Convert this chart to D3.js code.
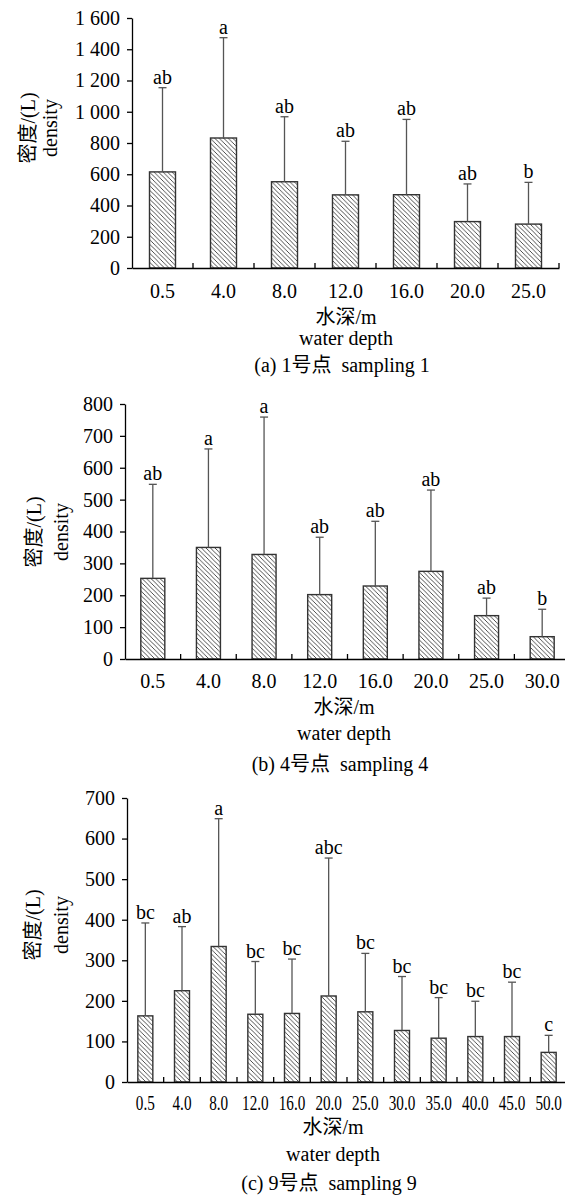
<!DOCTYPE html>
<html>
<head>
<meta charset="utf-8">
<script src="https://cdn.jsdelivr.net/npm/d3@7"></script>
<style>
  body { margin: 0; background: #fff; }
  svg { display: block; }
  text { font-family: "Liberation Serif", "Noto Sans CJK SC", serif; fill: #000; }
</style>
</head>
<body>
<div id="chart"></div>
<script>
// panel (a) sampling 1
var depthsA = ["0.5", "4.0", "8.0", "12.0", "16.0", "20.0", "25.0"];
var meanA = [615, 832, 552, 468, 469, 297, 281];
var upperA = [1154, 1474, 968, 811, 951, 538, 548];
var lettersA = ["ab", "a", "ab", "ab", "ab", "ab", "b"];
var ticksA = [0, 200, 400, 600, 800, 1000, 1200, 1400, 1600];

// panel (b) sampling 4
var depthsB = ["0.5", "4.0", "8.0", "12.0", "16.0", "20.0", "25.0", "30.0"];
var meanB = [253, 350, 328, 202, 229, 275, 136, 70];
var upperB = [548, 659, 759, 382, 432, 530, 191, 156];
var lettersB = ["ab", "a", "a", "ab", "ab", "ab", "ab", "b"];
var ticksB = [0, 100, 200, 300, 400, 500, 600, 700, 800];

// panel (c) sampling 9
var depthsC = ["0.5", "4.0", "8.0", "12.0", "16.0", "20.0", "25.0", "30.0", "35.0", "40.0", "45.0", "50.0"];
var meanC = [163, 225, 334, 167, 169, 212, 173, 127, 108, 112, 112, 73];
var upperC = [392, 383, 649, 297, 303, 552, 317, 260, 208, 199, 246, 115];
var lettersC = ["bc", "ab", "a", "bc", "bc", "abc", "bc", "bc", "bc", "bc", "bc", "c"];
var ticksC = [0, 100, 200, 300, 400, 500, 600, 700];

var captions = ["(a) 1号点  sampling 1", "(b) 4号点  sampling 4", "(c) 9号点  sampling 9"];

var W = 565, H = 1201;
var fmt = d3.formatLocale({decimal: ".", thousands: " ", grouping: [3], currency: ["", ""]}).format(",");

var svg = d3.select("#chart").append("svg")
    .attr("width", W)
    .attr("height", H);

var defs = svg.append("defs");
var pat = defs.append("pattern")
    .attr("id", "hatch")
    .attr("patternUnits", "userSpaceOnUse")
    .attr("width", 4.5)
    .attr("height", 4.5);
pat.append("rect").attr("width", 4.5).attr("height", 4.5).attr("fill", "#fff");
pat.append("path")
    .attr("d", "M0,0L4.5,4.5M-1,3.5L1,5.5M3.5,-1L5.5,1")
    .attr("stroke", "#222")
    .attr("stroke-width", 0.8);

var panels = [
    {depths: depthsA, mean: meanA, upper: upperA, letters: lettersA, ticks: ticksA, max: 1600,
     x0: 132, x1: 559, y0: 268, y1: 18, bw: 26, ylab: [28, 51, 128], xlabY: 298, titleX: 346, titleY: [324, 345, 372], tickScale: 1},
    {depths: depthsB, mean: meanB, upper: upperB, letters: lettersB, ticks: ticksB, max: 800,
     x0: 125, x1: 570, y0: 659, y1: 404, bw: 24, ylab: [34, 62, 532], xlabY: 688, titleX: 344, titleY: [714, 740, 771], tickScale: 1},
    {depths: depthsC, mean: meanC, upper: upperC, letters: lettersC, ticks: ticksC, max: 700,
     x0: 127, x1: 567, y0: 1082, y1: 798, bw: 15, ylab: [33, 62, 925], xlabY: 1110, titleX: 333, titleY: [1134, 1161, 1190], tickScale: 0.76}
];

panels.forEach(function(p, k) {
    var g = svg.append("g");

    var x = d3.scaleBand().domain(p.depths).range([p.x0, p.x1]).padding(0);
    var y = d3.scaleLinear().domain([0, p.max]).range([p.y0, p.y1]);

    // bars
    g.selectAll("rect.bar")
        .data(p.depths)
        .enter().append("rect")
        .attr("class", "bar")
        .attr("x", function(d) { return x(d) + (x.bandwidth() - p.bw) / 2; })
        .attr("y", function(d, i) { return y(p.mean[i]); })
        .attr("width", p.bw)
        .attr("height", function(d, i) { return p.y0 - y(p.mean[i]); })
        .attr("fill", "url(#hatch)")
        .attr("stroke", "#333")
        .attr("stroke-width", 1.4);

    // error bars
    var eb = g.selectAll("g.err")
        .data(p.depths)
        .enter().append("g")
        .attr("class", "err");
    eb.append("line")
        .attr("x1", function(d) { return x(d) + x.bandwidth() / 2; })
        .attr("x2", function(d) { return x(d) + x.bandwidth() / 2; })
        .attr("y1", function(d, i) { return y(p.mean[i]); })
        .attr("y2", function(d, i) { return y(p.upper[i]); })
        .attr("stroke", "#555")
        .attr("stroke-width", 1.3);
    eb.append("line")
        .attr("x1", function(d) { return x(d) + x.bandwidth() / 2 - 4; })
        .attr("x2", function(d) { return x(d) + x.bandwidth() / 2 + 4; })
        .attr("y1", function(d, i) { return y(p.upper[i]); })
        .attr("y2", function(d, i) { return y(p.upper[i]); })
        .attr("stroke", "#555")
        .attr("stroke-width", 1.3);
    eb.append("text")
        .attr("x", function(d) { return x(d) + x.bandwidth() / 2; })
        .attr("y", function(d, i) { return y(p.upper[i]) - 4; })
        .attr("text-anchor", "middle")
        .style("font-size", "20px")
        .text(function(d, i) { return p.letters[i]; });

    // y axis
    var ya = g.append("g")
        .attr("transform", "translate(" + p.x0 + ",0)")
        .call(d3.axisLeft(y).tickValues(p.ticks).tickFormat(fmt).tickSize(5).tickSizeOuter(0).tickPadding(7));
    ya.select(".domain").attr("stroke", "#000").attr("stroke-width", 1.3);
    ya.selectAll(".tick line").attr("stroke", "#000").attr("stroke-width", 1.3);
    ya.selectAll(".tick text").style("font-size", "20px").style("font-family", null).attr("font-family", null);

    // x axis
    var xa = g.append("g")
        .attr("transform", "translate(0," + p.y0 + ")")
        .call(d3.axisBottom(x).tickSize(0).tickSizeOuter(0).tickPadding(0));
    xa.select(".domain").attr("stroke", "#000").attr("stroke-width", 1.3);
    xa.selectAll(".tick text")
        .attr("y", p.xlabY - p.y0)
        .attr("dy", 0)
        .attr("transform", "scale(" + p.tickScale + ",1)")
        .style("font-size", "20px");
    ya.attr("font-family", null);
    xa.attr("font-family", null);

    // small ticks between categories, pointing up
    g.selectAll("line.minor")
        .data(p.depths)
        .enter().append("line")
        .attr("class", "minor")
        .attr("x1", function(d) { return x(d) + x.bandwidth(); })
        .attr("x2", function(d) { return x(d) + x.bandwidth(); })
        .attr("y1", p.y0)
        .attr("y2", p.y0 - 5)
        .attr("stroke", "#000")
        .attr("stroke-width", 1.3);

    // y title
    g.append("text")
        .attr("transform", "translate(" + p.ylab[0] + "," + p.ylab[2] + ") rotate(-90)")
        .attr("text-anchor", "middle")
        .attr("dy", "0.35em")
        .style("font-size", "20px")
        .text("密度/(L)");
    g.append("text")
        .attr("transform", "translate(" + p.ylab[1] + "," + p.ylab[2] + ") rotate(-90)")
        .attr("text-anchor", "middle")
        .attr("dy", "0.3em")
        .style("font-size", "20px")
        .text("density");

    // x title and caption
    g.append("text")
        .attr("x", p.titleX).attr("y", p.titleY[0])
        .attr("text-anchor", "middle")
        .style("font-size", "20px")
        .text("水深/m");
    g.append("text")
        .attr("x", p.titleX).attr("y", p.titleY[1])
        .attr("text-anchor", "middle")
        .style("font-size", "20px")
        .text("water depth");
    g.append("text")
        .attr("x", p.titleX - 4).attr("y", p.titleY[2])
        .attr("text-anchor", "middle")
        .style("font-size", "20px")
        .style("white-space", "pre")
        .text(captions[k]);
});
</script>
</body>
</html>
